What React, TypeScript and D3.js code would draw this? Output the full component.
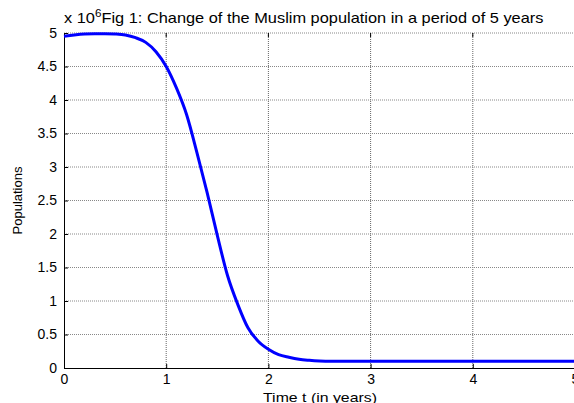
import * as d3 from 'd3';
import React, { useEffect, useRef } from 'react';

// time in years and population (in millions)
const years = [0, 0.1, 0.2, 0.3, 0.4, 0.5, 0.6, 0.7, 0.8, 0.9, 1.0, 1.1, 1.2, 1.3, 1.4, 1.5, 1.6, 1.7, 1.8, 1.9, 2.0, 2.1, 2.2, 2.3, 2.4, 2.5, 2.6, 3, 3.5, 4, 4.5, 5];
const populations = [4.95, 4.97, 4.985, 4.99, 4.99, 4.985, 4.97, 4.93, 4.86, 4.72, 4.5, 4.18, 3.78, 3.22, 2.62, 1.98, 1.38, 0.95, 0.6, 0.4, 0.28, 0.2, 0.16, 0.13, 0.115, 0.105, 0.1, 0.1, 0.1, 0.1, 0.1, 0.1];
const xTicks = [0, 1, 2, 3, 4, 5];
const yTicks = [0, 0.5, 1, 1.5, 2, 2.5, 3, 3.5, 4, 4.5, 5];
const yTickLabels = ['0', '0.5', '1', '1.5', '2', '2.5', '3', '3.5', '4', '4.5', '5'];
const titleText = 'Fig 1: Change of the Muslim population in a period of 5 years';

const App: React.FC = () => {
  const svgRef = useRef<SVGSVGElement | null>(null);

  useEffect(() => {
    const svg = d3.select(svgRef.current);
    const width = 574;
    const height = 403;
    const margin = { top: 33, right: -1, bottom: 35, left: 64 };
    const font = 'Liberation Sans, Arial, sans-serif';
    const stretch = 1.17; // the figure is stretched sideways

    svg.attr('width', width).attr('height', height).style('background', '#fff');
    svg.selectAll('*').remove();

    const x = d3.scaleLinear().domain([0, 5]).range([margin.left, width - margin.right]);
    const y = d3.scaleLinear().domain([0, 5]).range([height - margin.bottom, margin.top]);

    const grid = svg.append('g');
    grid
      .selectAll('line.v')
      .data(xTicks.slice(1, -1))
      .join('line')
      .attr('x1', (d) => x(d))
      .attr('x2', (d) => x(d))
      .attr('y1', y(0))
      .attr('y2', y(5))
      .attr('stroke', '#666')
      .attr('stroke-dasharray', '1,1');
    grid
      .selectAll('line.h')
      .data(yTicks.slice(1))
      .join('line')
      .attr('x1', x(0))
      .attr('x2', x(5))
      .attr('y1', (d) => y(d))
      .attr('y2', (d) => y(d))
      .attr('stroke', '#888')
      .attr('stroke-dasharray', '1,1');

    const xAxis = svg
      .append('g')
      .attr('transform', `translate(0,${y(0)})`)
      .call(d3.axisBottom(x).tickValues(xTicks).tickSize(-4).tickPadding(6).tickSizeOuter(0).tickFormat(d3.format('d')));
    xAxis.select('.domain').attr('stroke', '#000');
    xAxis.selectAll('text').style('font-family', font).style('font-size', '14px').attr('fill', '#000');

    const yAxis = svg
      .append('g')
      .attr('transform', `translate(${x(0)},0)`)
      .call(
        d3
          .axisLeft(y)
          .tickValues(yTicks)
          .tickSize(-4)
          .tickPadding(7)
          .tickSizeOuter(0)
          .tickFormat((d, i) => yTickLabels[i]),
      );
    yAxis.selectAll('text').style('font-family', font).style('font-size', '14px').attr('fill', '#000');

    // top ticks
    svg
      .append('g')
      .selectAll('line')
      .data(xTicks.slice(1))
      .join('line')
      .attr('x1', (d) => x(d))
      .attr('x2', (d) => x(d))
      .attr('y1', y(5))
      .attr('y2', y(5) + 4)
      .attr('stroke', '#000');

    const line = d3
      .line<number>()
      .x((d, i) => x(years[i]))
      .y((d) => y(d))
      .curve(d3.curveMonotoneX);

    svg
      .append('path')
      .datum(populations)
      .attr('fill', 'none')
      .attr('stroke', '#0000ff')
      .attr('stroke-width', 3)
      .attr('d', line);

    const title = svg
      .append('text')
      .attr('transform', `translate(${x(0)},23) scale(${stretch},1)`)
      .style('font-family', font)
      .style('font-size', '14px')
      .attr('fill', '#000');
    title.append('tspan').text('x 10');
    title.append('tspan').attr('dy', -6).style('font-size', '10px').text('6');
    title.append('tspan').attr('dy', 6).text(titleText);

    svg
      .append('text')
      .attr('transform', `translate(320,402) scale(1.22,1)`)
      .attr('text-anchor', 'middle')
      .style('font-family', font)
      .style('font-size', '13px')
      .text('Time t (in years)');

    svg
      .append('text')
      .attr('transform', `translate(22,${(y(0) + y(5)) / 2}) rotate(-90)`)
      .attr('text-anchor', 'middle')
      .style('font-family', font)
      .style('font-size', '13px')
      .text('Populations');
  }, []);

  return (
    <div style={{ position: 'absolute', left: 0, top: 0 }}>
      <svg ref={svgRef} style={{ display: 'block' }}></svg>
    </div>
  );
};

export default App;
